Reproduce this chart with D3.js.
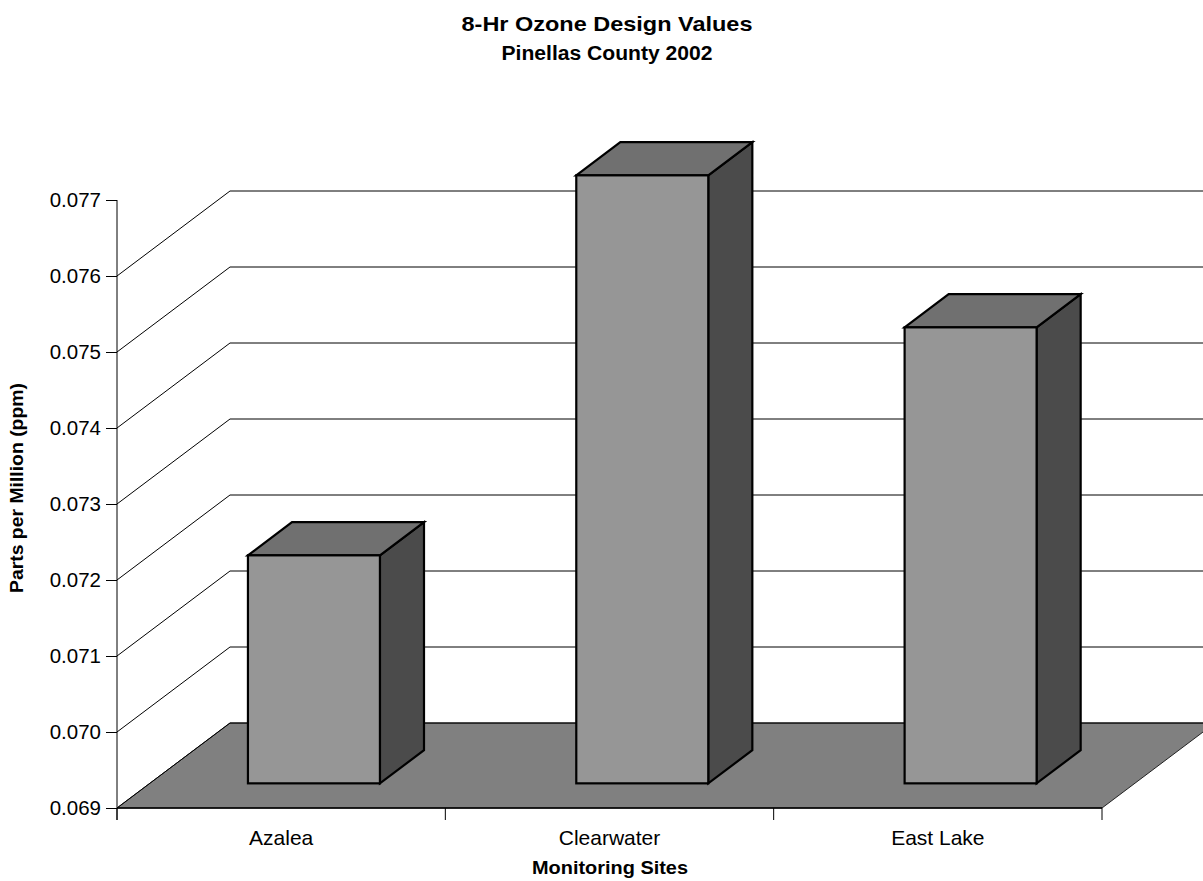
<!DOCTYPE html>
<html>
<head>
<meta charset="utf-8">
<script src="https://cdn.jsdelivr.net/npm/d3@7"></script>
<style>
html,body{margin:0;padding:0;background:#fff;}
svg{display:block;font-family:"Liberation Sans",Arial,Helvetica,sans-serif;}
</style>
</head>
<body>
<svg id="chart" width="1203" height="881"></svg>
<script>
// ---- data ----
const categories = ["Azalea", "Clearwater", "East Lake"];
const values = [0.072, 0.077, 0.075];
const yTicks = [0.069, 0.070, 0.071, 0.072, 0.073, 0.074, 0.075, 0.076, 0.077];
const gridValues = [0.069, 0.070, 0.071, 0.072, 0.073, 0.074, 0.075, 0.076];
const titleText = "8-Hr Ozone Design Values";
const subtitleText = "Pinellas County 2002";
const yTitle = "Parts per Million (ppm)";
const xTitle = "Monitoring Sites";

// ---- layout ----
const svg = d3.select("#chart");
const x0 = 117, x1 = 1102;
const depthX = 113, depthY = 85;       // oblique depth offset
const f1 = 0.29, f2 = 0.68;            // bar depth fractions (front/back)
const barFrac = 0.402;

const y = d3.scaleLinear().domain([0.069, 0.077]).range([808, 200]);
const x = d3.scaleBand().domain(categories).range([x0, x1]).padding(0);

// floor
const yb = y(0.069);
svg.append("polygon")
  .attr("points", [[x0, yb], [x1, yb], [x1 + depthX, yb - depthY], [x0 + depthX, yb - depthY]].map(p => p.join(",")).join(" "))
  .attr("fill", "#808080").attr("stroke", "#222").attr("stroke-width", 1);

// side-wall diagonals and back-wall gridlines
const grid = svg.append("g").attr("stroke", "#000").attr("stroke-width", 1).attr("fill", "none");
gridValues.forEach(v => {
  const yy = y(v);
  grid.append("path").attr("d", `M${x0},${yy}L${x0 + depthX},${yy - depthY}L${x1 + depthX},${yy - depthY}`);
});

// bars
const bars = svg.append("g").attr("stroke", "#000").attr("stroke-width", 2.2).attr("stroke-linejoin", "miter");
categories.forEach((c, i) => {
  const cx = x(c) + x.bandwidth() / 2 + f1 * depthX;
  const w = x.bandwidth() * barFrac;
  const L = cx - w / 2, R = cx + w / 2;
  const yTop = y(values[i]) - f1 * depthY;
  const yBot = y(0.069) - f1 * depthY;
  const dx = (f2 - f1) * depthX, dy = (f2 - f1) * depthY;
  // side face
  bars.append("polygon")
    .attr("points", [[R, yTop], [R + dx, yTop - dy], [R + dx, yBot - dy], [R, yBot]].map(p => p.join(",")).join(" "))
    .attr("fill", "#4b4b4b");
  // top face
  bars.append("polygon")
    .attr("points", [[L, yTop], [L + dx, yTop - dy], [R + dx, yTop - dy], [R, yTop]].map(p => p.join(",")).join(" "))
    .attr("fill", "#707070");
  // front face
  bars.append("rect")
    .attr("x", L).attr("y", yTop).attr("width", w).attr("height", yBot - yTop)
    .attr("fill", "#969696");
});

// y axis
svg.append("line").attr("x1", x0).attr("x2", x0).attr("y1", y(0.077)).attr("y2", 820)
  .attr("stroke", "#000").attr("stroke-width", 1);
const yAxis = svg.append("g").attr("transform", `translate(${x0},0)`)
  .call(d3.axisLeft(y).tickValues(yTicks).tickSize(11).tickPadding(5).tickFormat(d3.format(".3f")));
yAxis.select(".domain").remove();
yAxis.selectAll("text").attr("font-size", 20.5).attr("font-family", "'Liberation Sans',Arial,sans-serif")
  .attr("fill", "#000").attr("dy", "0.33em");
yAxis.selectAll("line").attr("stroke", "#000");

// x axis front edge + ticks
svg.append("line").attr("x1", x0).attr("x2", x1).attr("y1", yb).attr("y2", yb)
  .attr("stroke", "#000").attr("stroke-width", 1.5);
const bounds = categories.map(c => x(c)).concat([x(categories[categories.length - 1]) + x.bandwidth()]);
svg.append("g").selectAll("line").data(bounds).join("line")
  .attr("x1", d => d).attr("x2", d => d).attr("y1", yb).attr("y2", 820)
  .attr("stroke", "#000").attr("stroke-width", 1);
svg.append("g").selectAll("text").data(categories).join("text")
  .attr("x", d => x(d) + x.bandwidth() / 2).attr("y", 845)
  .attr("text-anchor", "middle").attr("font-size", 21).text(d => d);

// titles
svg.append("text").attr("x", 607).attr("y", 31).attr("text-anchor", "middle")
  .attr("font-size", 20.5).attr("font-weight", "bold")
  .attr("textLength", 291).attr("lengthAdjust", "spacingAndGlyphs").text(titleText);
svg.append("text").attr("x", 607).attr("y", 60).attr("text-anchor", "middle")
  .attr("font-size", 19.5).attr("font-weight", "bold")
  .attr("textLength", 211).attr("lengthAdjust", "spacingAndGlyphs").text(subtitleText);
svg.append("text").attr("transform", "translate(23,488) rotate(-90)").attr("text-anchor", "middle")
  .attr("font-size", 18.5).attr("font-weight", "bold")
  .attr("textLength", 210).attr("lengthAdjust", "spacingAndGlyphs").text(yTitle);
svg.append("text").attr("x", 610).attr("y", 874).attr("text-anchor", "middle")
  .attr("font-size", 19).attr("font-weight", "bold")
  .attr("textLength", 156).attr("lengthAdjust", "spacingAndGlyphs").text(xTitle);
</script>
</body>
</html>
